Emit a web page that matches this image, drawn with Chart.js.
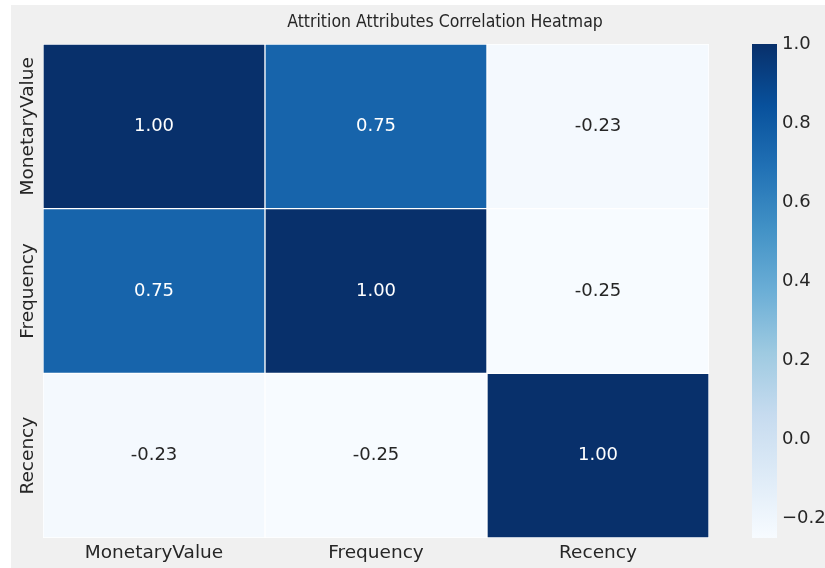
<!DOCTYPE html>
<html>
<head>
<meta charset="utf-8">
<script src="https://cdn.jsdelivr.net/npm/chart.js@4"></script>
<style>
  html, body { margin: 0; padding: 0; background: #ffffff; }
  #frame { position: absolute; left: 11px; top: 5px; width: 814px; height: 563px; background: #f0f0f0; }
  canvas { display: block; }
</style>
</head>
<body>
<div id="frame"><canvas id="heat" width="814" height="563"></canvas></div>
<script>
// Correlation matrix of the attrition attributes
const attributes = ['MonetaryValue', 'Frequency', 'Recency'];
const monetaryValueRow = [1.00, 0.75, -0.23];
const frequencyRow = [0.75, 1.00, -0.25];
const recencyRow = [-0.23, -0.25, 1.00];
const colorbarTicks = [-0.2, 0.0, 0.2, 0.4, 0.6, 0.8, 1.0];
const chartTitle = 'Attrition Attributes Correlation Heatmap';

const matrix = [monetaryValueRow, frequencyRow, recencyRow];
const vmin = Math.min(...matrix.flat());
const vmax = Math.max(...matrix.flat());

// "Blues" sequential colour ramp
const BLUES = ['#f7fbff', '#deebf7', '#c6dbef', '#9ecae1', '#6baed6', '#4292c6', '#2171b5', '#08519c', '#08306b'];
const TEXT_DARK = '#262626';
const FONT = '"DejaVu Sans", "Liberation Sans", sans-serif';
const LABEL_SIZE = 18.5;
const VALUE_SIZE = 18;

function hexToRgb(h) {
  const n = parseInt(h.slice(1), 16);
  return [(n >> 16) & 255, (n >> 8) & 255, n & 255];
}
function bluesRgb(v) {
  const t = Math.min(1, Math.max(0, (v - vmin) / (vmax - vmin)));
  const pos = t * (BLUES.length - 1);
  const i = Math.min(BLUES.length - 2, Math.floor(pos));
  const f = pos - i;
  const a = hexToRgb(BLUES[i]), b = hexToRgb(BLUES[i + 1]);
  return a.map((c, k) => Math.round(c + (b[k] - c) * f));
}
function bluesColor(v) {
  const [r, g, b] = bluesRgb(v);
  return `rgb(${r},${g},${b})`;
}
function relLuminance(rgb) {
  const lin = rgb.map(c => {
    c /= 255;
    return c <= 0.03928 ? c / 12.92 : Math.pow((c + 0.055) / 1.055, 2.4);
  });
  return 0.2126 * lin[0] + 0.7152 * lin[1] + 0.0722 * lin[2];
}

// One floating-bar dataset per matrix row; each bar spans its row band
const datasets = matrix.map((vals, r) => ({
  label: attributes[r],
  data: vals.map(() => [r, r + 1]),
  cellValues: vals,
  backgroundColor: vals.map(bluesColor),
  borderColor: '#ffffff',
  borderWidth: 1,
  borderSkipped: false,
  grouped: false,
  barPercentage: 1,
  categoryPercentage: 1
}));

// Value annotations in the centre of every cell
const cellLabels = {
  id: 'cellLabels',
  afterDatasetsDraw(chart) {
    const ctx = chart.ctx;
    ctx.save();
    ctx.font = `${VALUE_SIZE}px ${FONT}`;
    ctx.textAlign = 'center';
    ctx.textBaseline = 'middle';
    chart.data.datasets.forEach((ds, d) => {
      chart.getDatasetMeta(d).data.forEach((bar, j) => {
        const { x, y, base } = bar.getProps(['x', 'y', 'base'], true);
        const v = ds.cellValues[j];
        ctx.fillStyle = relLuminance(bluesRgb(v)) > 0.408 ? TEXT_DARK : '#ffffff';
        ctx.fillText(v.toFixed(2), x, (y + base) / 2);
      });
    });
    ctx.restore();
  }
};

// Vertical row labels on the left axis
const rowLabels = {
  id: 'rowLabels',
  afterDraw(chart) {
    const ys = chart.scales.y;
    const ctx = chart.ctx;
    ctx.save();
    ctx.font = `${LABEL_SIZE}px ${FONT}`;
    ctx.fillStyle = TEXT_DARK;
    ctx.textAlign = 'center';
    ctx.textBaseline = 'alphabetic';
    attributes.forEach((name, r) => {
      ctx.save();
      ctx.translate(22, ys.getPixelForValue(r + 0.5));
      ctx.rotate(-Math.PI / 2);
      ctx.fillText(name, 0, 0);
      ctx.restore();
    });
    ctx.restore();
  }
};

// Colour bar drawn along the right-hand value axis
const colorBar = {
  id: 'colorBar',
  afterDraw(chart) {
    const s = chart.scales.cb;
    const ctx = chart.ctx;
    const top = s.getPixelForValue(vmax);
    const bottom = s.getPixelForValue(vmin);
    const x0 = s.left + 43;
    const g = ctx.createLinearGradient(0, bottom, 0, top);
    BLUES.forEach((c, i) => g.addColorStop(i / (BLUES.length - 1), c));
    ctx.save();
    ctx.fillStyle = g;
    ctx.fillRect(x0, top, 25, bottom - top);
    ctx.restore();
  }
};

// Title
const titleText = {
  id: 'titleText',
  afterDraw(chart) {
    const ctx = chart.ctx;
    ctx.save();
    ctx.font = `17.5px "DejaVu Sans Condensed", ${FONT}`;
    ctx.fillStyle = TEXT_DARK;
    ctx.textAlign = 'center';
    ctx.textBaseline = 'middle';
    ctx.fillText(chartTitle, 434, 17);
    ctx.restore();
  }
};

function noEdgePadding(scale) {
  scale.paddingTop = 0;
  scale.paddingBottom = 0;
  scale.paddingLeft = 0;
  scale.paddingRight = 0;
}

new Chart(document.getElementById('heat'), {
  type: 'bar',
  data: { labels: attributes, datasets },
  options: {
    responsive: false,
    animation: false,
    devicePixelRatio: 1,
    layout: { padding: { top: 39, left: 0, right: 0, bottom: 0 } },
    plugins: {
      legend: { display: false },
      tooltip: { enabled: false },
      title: { display: false }
    },
    scales: {
      x: {
        type: 'category',
        grid: { display: false, drawTicks: false },
        border: { display: false },
        ticks: { color: TEXT_DARK, font: { family: FONT, size: LABEL_SIZE }, padding: 4, maxRotation: 0, minRotation: 0 },
        afterFit(scale) { scale.height = 30; noEdgePadding(scale); }
      },
      y: {
        type: 'linear',
        min: 0,
        max: attributes.length,
        reverse: true,
        grid: { display: false, drawTicks: false },
        border: { display: false },
        ticks: { display: false },
        afterFit(scale) { scale.width = 32; noEdgePadding(scale); }
      },
      cb: {
        type: 'linear',
        axis: 'y',
        position: 'right',
        min: vmin,
        max: vmax,
        grid: { display: false, drawTicks: false },
        border: { display: false },
        afterBuildTicks(scale) { scale.ticks = colorbarTicks.map(v => ({ value: v })); },
        ticks: {
          color: TEXT_DARK,
          font: { family: FONT, size: VALUE_SIZE },
          padding: 73,
          callback: v => (v < 0 ? '\u2212' : '') + Math.abs(v).toFixed(1)
        },
        afterFit(scale) { scale.width = 116; noEdgePadding(scale); }
      }
    }
  },
  plugins: [cellLabels, rowLabels, colorBar, titleText]
});
</script>
</body>
</html>
